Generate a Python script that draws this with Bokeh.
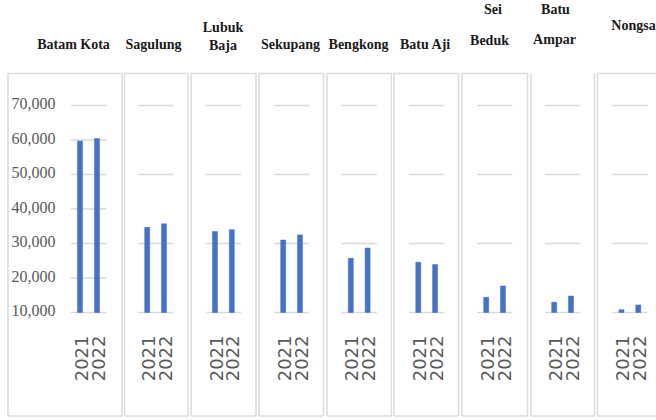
import math
from bokeh.plotting import figure
from bokeh.layouts import row
from bokeh.models import Range1d, ColumnDataSource
from bokeh.core.properties import value
from bokeh.embed import file_html
from bokeh.resources import INLINE

# ---------------- data ----------------
districts = ["Batam Kota", "Sagulung", "Lubuk Baja", "Sekupang", "Bengkong",
             "Batu Aji", "Sei Beduk", "Batu Ampar", "Nongsa"]
header_lines = [["Batam Kota"], ["Sagulung"], ["Lubuk", "Baja"], ["Sekupang"],
                ["Bengkong"], ["Batu Aji"], ["Sei", "Beduk"], ["Batu", "Ampar"],
                ["Nongsa"]]
years = ["2021", "2022"]
v2021 = [59700, 34700, 33500, 31000, 25700, 24600, 14400, 13000, 10800]
v2022 = [60400, 35700, 34000, 32500, 28700, 23900, 17700, 14800, 12200]
y_ticks = [10000, 20000, 30000, 40000, 50000, 60000, 70000]
y_tick_labels = ["10,000", "20,000", "30,000", "40,000", "50,000", "60,000", "70,000"]

# ---------------- style / layout (pixel geometry) ----------------
BAR = "#4472C4"
GRID = "#d9d9d9"
BORDER = "#dcdcdc"
LABEL = "#595959"
HEAD = "#1a1a1a"
AXIS_MIN = 10000
H = 420
PX_PER_UNIT_Y = 207.0 / 60000.0        # 60,000 spans 207 px
Y_TOP_PX = 105.0                        # pixel row of 70,000

# figure start/end px, first-bar centre px, px per category step
fig_px = [(0, 123), (123, 189), (189, 257), (257, 325), (325, 392),
          (392, 460), (460, 529), (529, 596), (596, 656)]
bar_c = [79.5, 146.7, 214.5, 282.7, 350.3, 417.8, 485.7, 553.7, 621.0]
step = [17.0] + [16.8] * 8
# border box px: left, right, sides drawn
border = [
    (7.5, 121.5, "lrtb"), (124, 187.5, "lrtb"), (190.5, 255.5, "lrtb"),
    (258.5, 323, "lrtb"), (326.5, 391, "lrtb"), (393.5, 458, "lrtb"),
    (461.5, 527, "lrtb"), (530.5, 594, "lrb"), (597, 662, "ltb"),
]
BORDER_TOP, BORDER_BOTTOM = 73, 415.5
# header lines: centre px, baseline px (one entry per line)
head_pos = [
    [(73, 44)], [(153, 44)], [(222.5, 27), (222.5, 45)], [(290, 44)],
    [(358, 44)], [(425, 44)], [(492.5, 8.5), (489, 40)], [(555, 9), (554, 39)],
    [(633, 25)],
]


def yd(py):
    return 70000 - (py - Y_TOP_PX) / PX_PER_UNIT_Y


figs = []
for i, name in enumerate(districts):
    f0, f1 = fig_px[i]
    c, u = bar_c[i], step[i]

    def xd(px, c=c, u=u):
        return (px - c) / u

    p = figure(width=f1 - f0, height=H,
               x_range=Range1d(xd(f0), xd(f1)), y_range=Range1d(yd(H), yd(0)),
               x_axis_location=None, y_axis_location=None,
               toolbar_location=None, output_backend="svg", min_border=0)
    p.xgrid.visible = False
    p.ygrid.visible = False
    p.outline_line_color = None
    p.background_fill_color = "white"
    p.border_fill_color = "white"

    # panel border
    bl, br, sides = border[i]
    x0s, x1s, y0s, y1s = [], [], [], []
    if "l" in sides:
        x0s.append(xd(bl)); x1s.append(xd(bl)); y0s.append(yd(BORDER_TOP)); y1s.append(yd(BORDER_BOTTOM))
    if "r" in sides:
        x0s.append(xd(br)); x1s.append(xd(br)); y0s.append(yd(BORDER_TOP)); y1s.append(yd(BORDER_BOTTOM))
    if "t" in sides:
        x0s.append(xd(bl)); x1s.append(xd(br)); y0s.append(yd(BORDER_TOP)); y1s.append(yd(BORDER_TOP))
    if "b" in sides:
        x0s.append(xd(bl)); x1s.append(xd(br)); y0s.append(yd(BORDER_BOTTOM)); y1s.append(yd(BORDER_BOTTOM))
    p.segment(x0=x0s, x1=x1s, y0=y0s, y1=y1s, line_color=BORDER, line_width=1.6)

    # gridlines
    grid_vals = y_ticks if i == 0 else y_ticks[::2]
    p.segment(x0=[-0.55] * len(grid_vals), x1=[1.55] * len(grid_vals),
              y0=grid_vals, y1=grid_vals, line_color=GRID, line_width=1.3)

    # bars
    src = ColumnDataSource(dict(x=[0, 1], top=[v2021[i], v2022[i]], year=years))
    p.vbar(x="x", top="top", bottom=AXIS_MIN, width=0.3, source=src,
           fill_color=BAR, line_color=BAR, line_width=0.5)

    # category labels (rotated)
    p.text(x="x", y=yd(335), text="year", source=src, angle=math.pi / 2,
           x_offset=1, text_align="right", text_baseline="middle",
           text_font=value("DejaVu Sans"), text_font_size="18px",
           text_color=LABEL)

    # value axis labels on first panel
    if i == 0:
        p.text(x=[xd(55)] * len(y_ticks), y=y_ticks, text=y_tick_labels,
               y_offset=-2, text_align="right", text_baseline="middle",
               text_font=value("Liberation Sans Narrow"), text_font_size="16px",
               text_color=LABEL)

    # header
    lines = header_lines[i]
    pos = head_pos[i]
    p.text(x=[xd(px) for px, _ in pos], y=[yd(py) for _, py in pos], text=lines,
           text_align="center", text_baseline="alphabetic",
           text_font=value("Liberation Serif"), text_font_style="bold",
           text_font_size="14px", text_color=HEAD)
    figs.append(p)

layout = row(*figs, spacing=0)
open("out.html", "w").write(file_html(layout, INLINE))
